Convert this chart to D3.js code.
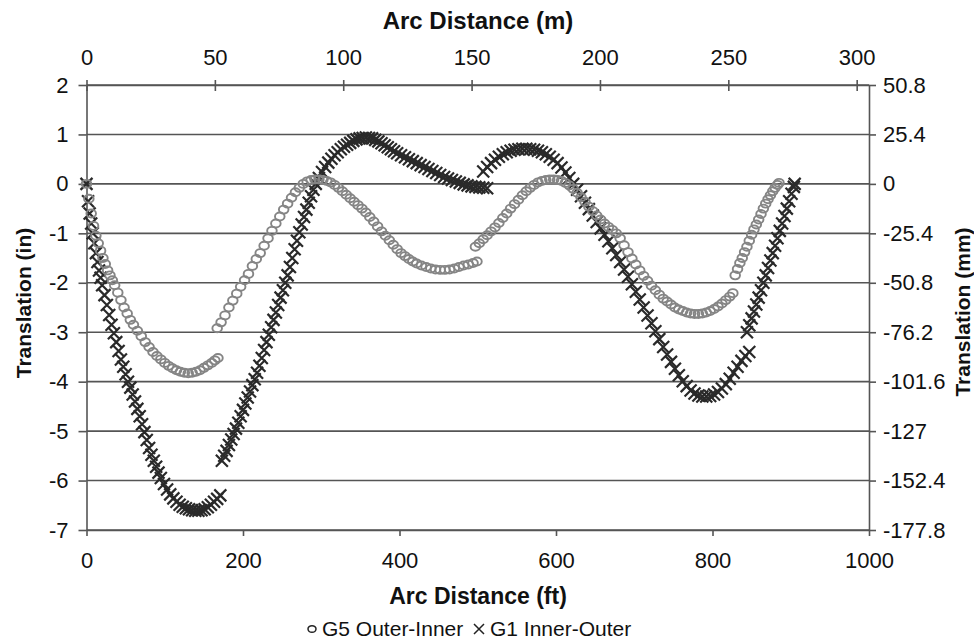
<!DOCTYPE html>
<html lang="en">
<head>
<meta charset="UTF-8"/>
<title>Translation vs Arc Distance</title>
<script src="https://d3js.org/d3.v7.min.js"></script>
<style>
	body { margin: 0; background: #fff; }
	svg { display: block; font-family: "Liberation Sans", Arial, sans-serif; }
</style>
</head>
<body>
<script>
	// G5 Outer-Inner, [arc distance ft, translation in], one array per run
	var g5Runs = [
		[[0,0],[3,-0.3],[6,-0.6],[9,-0.85],[12,-1.05],[15,-1.2],[18,-1.35],[21,-1.5],[24,-1.62],[27,-1.75],[30,-1.85],[33,-1.95],[36,-2.05],[40,-2.2],[44,-2.35],[48,-2.5],[52,-2.62],[56,-2.75],[60,-2.85],[65,-2.97],[70,-3.08],[75,-3.2],[80,-3.3],[85,-3.4],[90,-3.48],[95,-3.55],[100,-3.62],[105,-3.68],[110,-3.73],[115,-3.77],[120,-3.8],[125,-3.82],[130,-3.83],[135,-3.82],[140,-3.8],[145,-3.77],[150,-3.72],[155,-3.67],[160,-3.62],[164,-3.57],[168,-3.52]],
		[[167,-2.92],[172,-2.8],[177,-2.66],[182,-2.5],[187,-2.36],[192,-2.22],[197,-2.08],[202,-1.95],[207,-1.82],[212,-1.66],[217,-1.52],[222,-1.4],[227,-1.25],[232,-1.1],[237,-0.95],[242,-0.8],[247,-0.66],[252,-0.52],[257,-0.4],[262,-0.28],[267,-0.17],[272,-0.08],[277,0],[282,0.05],[287,0.08],[292,0.09],[297,0.09],[302,0.08],[307,0.06],[312,0.03],[317,-0.02],[322,-0.08],[327,-0.15],[332,-0.22],[337,-0.29],[342,-0.36],[347,-0.43],[352,-0.5],[357,-0.58],[362,-0.67],[367,-0.76],[372,-0.86],[377,-0.96],[382,-1.05],[387,-1.14],[392,-1.23],[397,-1.32],[402,-1.4],[407,-1.46],[412,-1.52],[417,-1.57],[422,-1.61],[428,-1.65],[434,-1.68],[440,-1.71],[446,-1.73],[452,-1.74],[458,-1.74],[464,-1.73],[470,-1.71],[476,-1.68],[482,-1.65],[488,-1.63],[494,-1.6],[499,-1.57]],
		[[497,-1.27],[502,-1.2],[507,-1.12],[512,-1.04],[517,-0.96],[522,-0.88],[527,-0.79],[532,-0.69],[537,-0.6],[542,-0.5],[547,-0.41],[552,-0.32],[557,-0.23],[562,-0.15],[567,-0.08],[572,-0.02],[577,0.03],[582,0.06],[587,0.08],[592,0.09],[597,0.09],[602,0.08],[607,0.06],[612,0.02],[617,-0.03],[622,-0.1],[627,-0.18],[632,-0.27],[637,-0.36],[642,-0.46],[647,-0.55],[652,-0.64],[657,-0.72],[662,-0.8],[667,-0.87],[672,-0.93],[677,-1.0],[682,-1.1],[687,-1.24],[692,-1.38],[697,-1.51],[702,-1.63],[707,-1.75],[712,-1.86],[717,-1.96],[722,-2.06],[727,-2.15],[732,-2.24],[737,-2.32],[742,-2.38],[747,-2.44],[752,-2.5],[757,-2.54],[762,-2.57],[767,-2.6],[772,-2.62],[777,-2.63],[782,-2.63],[787,-2.62],[792,-2.6],[797,-2.57],[802,-2.53],[807,-2.48],[812,-2.42],[817,-2.35],[822,-2.28],[826,-2.21]],
		[[829,-1.85],[832,-1.72],[835,-1.6],[838,-1.5],[841,-1.38],[844,-1.27],[847,-1.15],[850,-1.03],[853,-0.92],[856,-0.82],[859,-0.72],[862,-0.61],[865,-0.5],[868,-0.4],[871,-0.31],[874,-0.23],[877,-0.15],[880,-0.08],[883,-0.02],[885,0.02]]
	];

	// G1 Inner-Outer
	var g1Runs = [
		[[0,0],[2,-0.35],[4,-0.6],[6,-0.8],[8,-1.0],[10,-1.2],[12,-1.4],[14,-1.58],[16,-1.75],[18,-1.9],[20,-2.05],[23,-2.25],[26,-2.45],[29,-2.65],[32,-2.85],[35,-3.02],[38,-3.2],[41,-3.38],[44,-3.55],[47,-3.7],[50,-3.85],[53,-4.0],[56,-4.12],[59,-4.26],[62,-4.4],[65,-4.55],[68,-4.7],[71,-4.86],[74,-5.02],[77,-5.18],[80,-5.34],[83,-5.48],[86,-5.6],[89,-5.72],[92,-5.84],[95,-5.95],[99,-6.07],[103,-6.18],[107,-6.28],[111,-6.36],[115,-6.43],[119,-6.49],[123,-6.53],[127,-6.56],[131,-6.58],[135,-6.6],[139,-6.61],[143,-6.61],[147,-6.6],[151,-6.58],[155,-6.54],[159,-6.49],[163,-6.43],[167,-6.37],[171,-6.3]],
		[[173,-5.6],[176,-5.5],[179,-5.4],[182,-5.28],[185,-5.17],[188,-5.06],[191,-4.95],[194,-4.83],[197,-4.7],[200,-4.57],[203,-4.44],[206,-4.32],[209,-4.2],[212,-4.07],[215,-3.95],[218,-3.82],[221,-3.68],[224,-3.52],[227,-3.36],[230,-3.2],[233,-3.05],[236,-2.9],[239,-2.75],[242,-2.6],[245,-2.45],[248,-2.3],[251,-2.15],[254,-2.0],[257,-1.85],[260,-1.68],[263,-1.5],[266,-1.32],[269,-1.15],[272,-0.98],[275,-0.82],[278,-0.67],[281,-0.52],[284,-0.38],[287,-0.25],[290,-0.12],[293,0.0],[297,0.12],[301,0.24],[305,0.34],[309,0.43],[313,0.51],[317,0.58],[321,0.64],[325,0.7],[329,0.75],[333,0.79],[337,0.83],[341,0.87],[345,0.9],[349,0.92],[353,0.93],[357,0.94],[361,0.93],[365,0.92],[369,0.89],[373,0.86],[377,0.82],[381,0.78],[385,0.74],[389,0.7],[393,0.66],[397,0.62],[402,0.58],[407,0.54],[412,0.5],[417,0.46],[422,0.42],[427,0.38],[432,0.34],[437,0.3],[442,0.26],[447,0.22],[452,0.18],[457,0.14],[462,0.11],[467,0.08],[472,0.05],[477,0.02],[482,-0.01],[487,-0.03],[492,-0.05],[497,-0.06],[502,-0.07],[507,-0.08],[512,-0.09]],
		[[507,0.25],[512,0.34],[517,0.42],[522,0.49],[527,0.55],[532,0.6],[537,0.64],[542,0.67],[547,0.69],[552,0.7],[557,0.71],[562,0.71],[567,0.7],[572,0.69],[577,0.67],[582,0.64],[587,0.6],[592,0.55],[597,0.49],[602,0.42],[607,0.33],[612,0.23],[617,0.12],[622,0.0],[627,-0.12],[632,-0.25],[637,-0.38],[642,-0.51],[647,-0.64],[652,-0.77],[657,-0.9],[662,-1.03],[667,-1.16],[672,-1.3],[677,-1.44],[682,-1.58],[687,-1.73],[692,-1.88],[697,-2.03],[702,-2.18],[707,-2.34],[712,-2.5],[717,-2.66],[722,-2.82],[727,-2.98],[732,-3.14],[737,-3.3],[742,-3.45],[747,-3.6],[752,-3.74],[757,-3.87],[762,-3.99],[767,-4.09],[772,-4.18],[777,-4.24],[782,-4.28],[787,-4.3],[792,-4.3],[797,-4.29],[802,-4.26],[807,-4.21],[812,-4.14],[817,-4.05],[822,-3.94],[827,-3.82],[832,-3.7],[837,-3.58],[842,-3.48],[847,-3.4]],
		[[844,-3.0],[847,-2.86],[850,-2.72],[853,-2.58],[856,-2.44],[859,-2.3],[862,-2.15],[865,-2.0],[868,-1.85],[871,-1.7],[874,-1.55],[877,-1.4],[880,-1.25],[883,-1.1],[886,-0.95],[889,-0.8],[892,-0.65],[895,-0.5],[898,-0.35],[901,-0.2],[904,-0.06],[905,0.0]]
	];

	var ftTicks = [0, 200, 400, 600, 800, 1000];
	var mTicks = [0, 50, 100, 150, 200, 250, 300];
	var inTicks = [2, 1, 0, -1, -2, -3, -4, -5, -6, -7];
	var mmTicks = [50.8, 25.4, 0, -25.4, -50.8, -76.2, -101.6, -127, -152.4, -177.8];
	var legendNames = ["G5 Outer-Inner", "G1 Inner-Outer"];

	var w = 974, h = 642;
	var pLeft = 86.5, pRight = 869, pTop = 85, pBottom = 530;

	var x = d3.scaleLinear().domain([0, 1000]).range([pLeft, pRight]);
	var xm = d3.scaleLinear().domain([0, 1000 / 3.28084]).range([pLeft, pRight]);
	var y = d3.scaleLinear().domain([-7, 2]).range([pBottom, pTop]);
	var ymm = d3.scaleLinear().domain([-177.8, 50.8]).range([pBottom, pTop]);

	var svg = d3.select("body").append("svg").attr("width", w).attr("height", h);

	// horizontal grid
	svg.append("g").selectAll("line").data(inTicks).enter().append("line")
		.attr("x1", pLeft).attr("x2", pRight)
		.attr("y1", function(d){ return y(d); })
		.attr("y2", function(d){ return y(d); })
		.attr("stroke", "#555").attr("stroke-width", 1.6);

	function styleAxis(g) {
		g.selectAll("path").attr("stroke", "#555").attr("stroke-width", 1.6);
		g.selectAll("line").attr("stroke", "#555").attr("stroke-width", 1.6);
		g.selectAll("text").attr("fill", "#111").attr("font-size", "22px")
			.attr("font-family", "'Liberation Sans', Arial, sans-serif");
	}

	var fmt = function(d){ return String(d); };

	var gb = svg.append("g").attr("transform", "translate(0," + pBottom + ")")
		.call(d3.axisBottom(x).tickValues(ftTicks).tickFormat(fmt).tickSizeInner(6).tickSizeOuter(0).tickPadding(16));
	styleAxis(gb);

	var gt = svg.append("g").attr("transform", "translate(0," + pTop + ")")
		.call(d3.axisTop(xm).tickValues(mTicks).tickFormat(fmt).tickSizeInner(5).tickSizeOuter(0).tickPadding(15));
	styleAxis(gt);
	gt.selectAll(".tick line").attr("y2", 6).attr("y1", -5);

	var gl = svg.append("g").attr("transform", "translate(" + pLeft + ",0)")
		.call(d3.axisLeft(y).tickValues(inTicks).tickFormat(fmt).tickSizeInner(8).tickSizeOuter(0).tickPadding(10));
	styleAxis(gl);

	var gr = svg.append("g").attr("transform", "translate(" + pRight + ",0)")
		.call(d3.axisRight(ymm).tickValues(mmTicks).tickFormat(fmt).tickSizeInner(7).tickSizeOuter(0).tickPadding(7));
	styleAxis(gr);

	// G1 crosses
	var g1Pts = g1Runs.flat();
	svg.append("g").selectAll("path").data(g1Pts).enter().append("path")
		.attr("d", function(d){
			var cx = x(d[0]), cy = y(d[1]), a = 6, b = 6;
			return "M" + (cx - a) + "," + (cy - b) + "L" + (cx + a) + "," + (cy + b) +
				"M" + (cx - a) + "," + (cy + b) + "L" + (cx + a) + "," + (cy - b);
		})
		.attr("stroke", "#2a2a2a").attr("stroke-width", 2.2).attr("fill", "none");

	// G5 circles
	var g5Pts = g5Runs.flat();
	svg.append("g").selectAll("ellipse").data(g5Pts).enter().append("ellipse")
		.attr("cx", function(d){ return x(d[0]); })
		.attr("cy", function(d){ return y(d[1]); })
		.attr("rx", 4.8).attr("ry", 4)
		.attr("fill", "none").attr("stroke", "#858585").attr("stroke-width", 1.9);

	// titles
	svg.append("text").text("Arc Distance (m)")
		.attr("x", 478).attr("y", 29).attr("text-anchor", "middle")
		.attr("font-size", "24px").attr("font-weight", "bold").attr("fill", "#111");
	svg.append("text").text("Arc Distance (ft)")
		.attr("x", 478).attr("y", 604).attr("text-anchor", "middle")
		.attr("font-size", "23px").attr("font-weight", "bold").attr("fill", "#111");
	svg.append("text").text("Translation (in)")
		.attr("transform", "translate(31,303) rotate(-90)").attr("text-anchor", "middle")
		.attr("font-size", "21px").attr("font-weight", "bold").attr("fill", "#111");
	svg.append("text").text("Translation (mm)")
		.attr("transform", "translate(970,312) rotate(-90)").attr("text-anchor", "middle")
		.attr("font-size", "21px").attr("font-weight", "bold").attr("fill", "#111");

	// legend
	var lg = svg.append("g").attr("font-size", "21px").attr("fill", "#111");
	lg.append("ellipse").attr("cx", 312).attr("cy", 629).attr("rx", 4).attr("ry", 3.3)
		.attr("fill", "none").attr("stroke", "#222").attr("stroke-width", 1.5);
	lg.append("text").text(legendNames[0]).attr("x", 322).attr("y", 636);
	lg.append("path").attr("d", "M474,624L484,634M474,634L484,624")
		.attr("stroke", "#222").attr("stroke-width", 1.5);
	lg.append("text").text(legendNames[1]).attr("x", 490).attr("y", 636);
</script>
</body>
</html>
